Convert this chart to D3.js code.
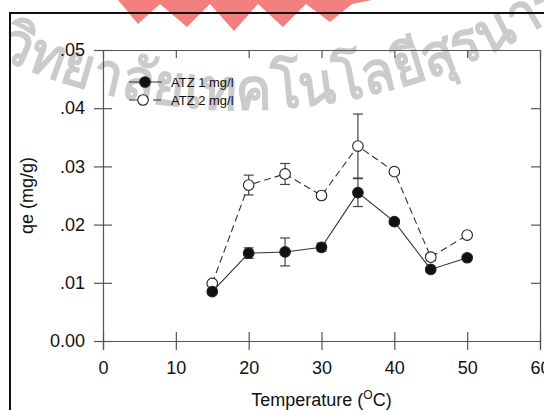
<!DOCTYPE html>
<html>
<head>
<meta charset="utf-8">
<script src="https://cdn.jsdelivr.net/npm/d3@7"></script>
<style>
  html, body { margin: 0; padding: 0; background: #fff; }
  svg { display: block; }
  text { font-family: "Liberation Sans", Arial, sans-serif; }
</style>
</head>
<body>
<svg id="chart" width="544" height="410"></svg>
<script>
// Adsorption capacity vs. temperature
const temperatures = [15, 20, 25, 30, 35, 40, 45, 50];
const atz1Values = [0.0085, 0.0151, 0.0153, 0.0161, 0.0255, 0.0205, 0.0123, 0.0143];
const atz1Errors = [0.0004, 0.0009, 0.0024, 0.0007, 0.0024, 0.0004, 0.0003, 0.0003];
const atz2Values = [0.0099, 0.0268, 0.0287, 0.0250, 0.0335, 0.0291, 0.0144, 0.0182];
const atz2Errors = [0.0003, 0.0017, 0.0018, 0.0003, 0.0055, 0.0003, 0.0006, 0.0003];
const seriesNames = ["ATZ 1 mg/l", "ATZ 2 mg/l"];
const xTicks = [0, 10, 20, 30, 40, 50, 60];
const yTicks = [0, 0.01, 0.02, 0.03, 0.04, 0.05];
const yTickLabels = ["0.00", ".01", ".02", ".03", ".04", ".05"];
const watermarkText = "วิทยาลัยเทคโนโลยีสุรนารี";

const svg = d3.select("#chart");
const plot = { left: 103, right: 540, top: 50, bottom: 341 };

const x = d3.scaleLinear().domain([0, 60]).range([plot.left, plot.right]);
const y = d3.scaleLinear().domain([0, 0.05]).range([plot.bottom, plot.top]);

// faint institutional mark behind the chart
const wm = svg.append("g").attr("class", "watermark");
wm.append("path")
  .attr("d", "M118,0 L138,24 L160,4 L187,27 L210,4 L234,31 L258,4 L283,27 L306,4 L330,22 L352,4 L372,0 Z")
  .attr("fill", "#f04848").attr("opacity", 0.7);
wm.append("path").attr("id", "wmArc")
  .attr("d", "M-136,-27 A585,585 0 0 0 616,-27")
  .attr("fill", "none");
wm.append("text")
  .attr("font-family", "'Noto Sans Thai', 'Noto Sans', 'DejaVu Sans', sans-serif")
  .attr("font-size", 58).attr("font-weight", "bold")
  .attr("fill", "#cbcbcb")
  .append("textPath").attr("href", "#wmArc").attr("startOffset", 158)
  .attr("textLength", 600).attr("lengthAdjust", "spacingAndGlyphs")
  .text(watermarkText);

// outer frame
svg.append("rect")
  .attr("x", 10).attr("y", 13).attr("width", 560).attr("height", 420)
  .attr("fill", "none").attr("stroke", "#111").attr("stroke-width", 2);

const axisColor = "#555";

// bottom axis
const xAxis = svg.append("g").attr("transform", `translate(0,${plot.bottom})`)
  .call(d3.axisBottom(x).tickValues(xTicks).tickSize(9).tickFormat(d3.format("d")));
xAxis.selectAll(".tick line").attr("y1", -9);
xAxis.selectAll("text").attr("font-size", 18).attr("fill", "#111").attr("dy", "1.15em")
  .attr("font-family", "'Liberation Sans', Arial, sans-serif");

// left axis
const yAxis = svg.append("g").attr("transform", `translate(${plot.left},0)`)
  .call(d3.axisLeft(y).tickValues(yTicks).tickSize(9).tickPadding(9)
    .tickFormat((d, i) => yTickLabels[i]));
yAxis.selectAll(".tick line").attr("x1", 9);
yAxis.selectAll("text").attr("font-size", 18).attr("fill", "#111")
  .attr("font-family", "'Liberation Sans', Arial, sans-serif");

// top and right axes, ticks inward
svg.append("g").attr("transform", `translate(0,${plot.top})`)
  .call(d3.axisTop(x).tickValues(xTicks.slice(1, -1)).tickSize(-8).tickFormat(""));
svg.append("g").attr("transform", `translate(${plot.right},0)`)
  .call(d3.axisRight(y).tickValues(yTicks.slice(1, -1)).tickSize(-9).tickFormat(""));

svg.selectAll(".domain").attr("stroke", axisColor).attr("stroke-width", 1.2);
svg.selectAll(".tick line").attr("stroke", axisColor).attr("stroke-width", 1.2);

// axis titles
const xt = svg.append("text")
  .attr("x", x(30)).attr("y", 406).attr("text-anchor", "middle")
  .attr("font-size", 18).attr("fill", "#111");
xt.append("tspan").text("Temperature (");
xt.append("tspan").attr("font-size", 12).attr("dy", -7).text("O");
xt.append("tspan").attr("dy", 7).text("C)");

svg.append("text")
  .attr("transform", `translate(33,${(plot.top + plot.bottom) / 2}) rotate(-90)`)
  .attr("text-anchor", "middle").attr("font-size", 18).attr("fill", "#111")
  .text("qe (mg/g)");

// series
const series = [
  { name: seriesNames[1], values: atz2Values, errors: atz2Errors, filled: false, dash: "7,4" },
  { name: seriesNames[0], values: atz1Values, errors: atz1Errors, filled: true, dash: null }
];

const line = d3.line().x(d => x(d.t)).y(d => y(d.v));

series.forEach(s => {
  const pts = temperatures.map((t, i) => ({ t, v: s.values[i], e: s.errors[i] }));
  const g = svg.append("g");
  g.append("path").datum(pts).attr("d", line)
    .attr("fill", "none").attr("stroke", "#333").attr("stroke-width", 1.1)
    .attr("stroke-dasharray", s.dash);
  const eb = g.selectAll(".err").data(pts).join("g").attr("stroke", "#444").attr("stroke-width", 1.2);
  eb.append("line").attr("x1", d => x(d.t)).attr("x2", d => x(d.t))
    .attr("y1", d => y(d.v - d.e)).attr("y2", d => y(d.v + d.e));
  eb.append("line").attr("x1", d => x(d.t) - 5).attr("x2", d => x(d.t) + 5)
    .attr("y1", d => y(d.v + d.e)).attr("y2", d => y(d.v + d.e));
  eb.append("line").attr("x1", d => x(d.t) - 5).attr("x2", d => x(d.t) + 5)
    .attr("y1", d => y(d.v - d.e)).attr("y2", d => y(d.v - d.e));
  g.selectAll("circle").data(pts).join("circle")
    .attr("cx", d => x(d.t)).attr("cy", d => y(d.v)).attr("r", 5.3)
    .attr("fill", s.filled ? "#111" : "#fff")
    .attr("stroke", "#222").attr("stroke-width", 1.1);
});

// legend
const legendRows = [
  { name: seriesNames[0], filled: true, dash: null, y: 82 },
  { name: seriesNames[1], filled: false, dash: "8,4", y: 100 }
];
const lg = svg.append("g");
legendRows.forEach(r => {
  lg.append("line").attr("x1", 129).attr("x2", 162).attr("y1", r.y).attr("y2", r.y)
    .attr("stroke", "#333").attr("stroke-width", 1.1).attr("stroke-dasharray", r.dash);
  lg.append("circle").attr("cx", r.filled ? 145 : 143).attr("cy", r.y).attr("r", 5.3)
    .attr("fill", r.filled ? "#111" : "#fff").attr("stroke", "#222").attr("stroke-width", 1.1);
  lg.append("text").attr("x", 171).attr("y", r.y + 4.6).attr("font-size", 13)
    .attr("fill", "#111").text(r.name);
});
</script>
</body>
</html>
